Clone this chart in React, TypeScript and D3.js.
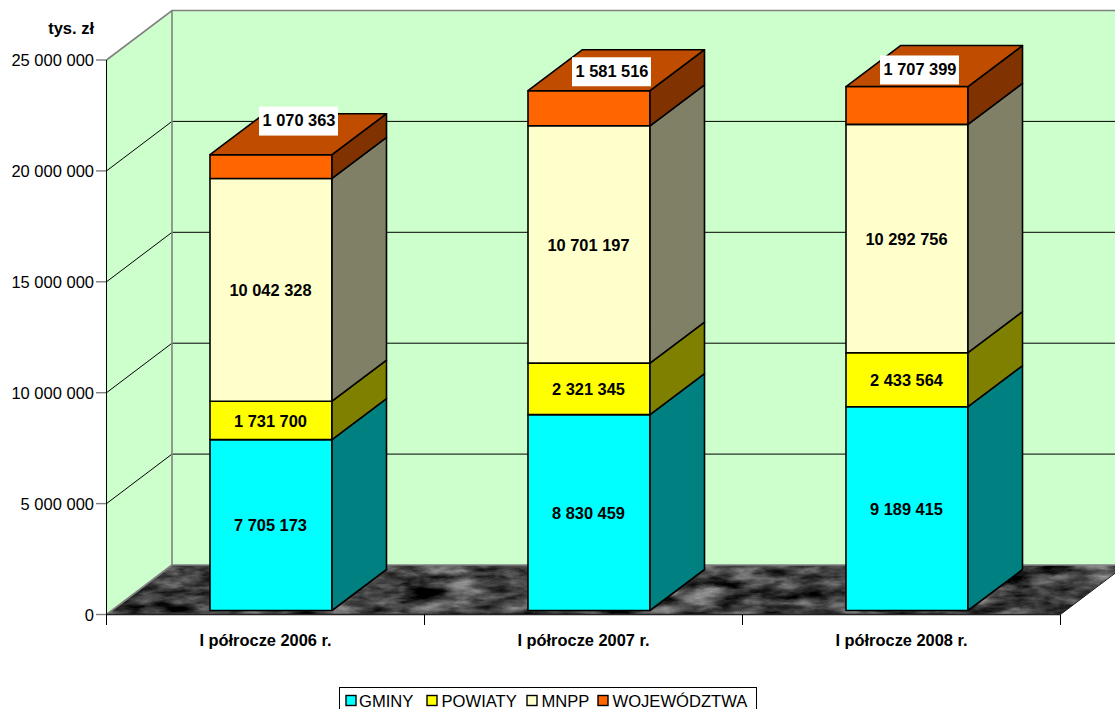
import React from "react";
import * as d3 from "d3";

const categories = ["I półrocze 2006 r.", "I półrocze 2007 r.", "I półrocze 2008 r."];
const seriesNames = ["GMINY", "POWIATY", "MNPP", "WOJEWÓDZTWA"];
const gminy = [7705173, 8830459, 9189415];
const powiaty = [1731700, 2321345, 2433564];
const mnpp = [10042328, 10701197, 10292756];
const wojewodztwa = [1070363, 1581516, 1707399];
const yTicks = [0, 5000000, 10000000, 15000000, 20000000, 25000000];
const frontColors = ["#00FFFF", "#FFFF00", "#FFFFCC", "#FF6600"];
const sideColors = ["#008080", "#808000", "#808066", "#803300"];
const topColor = "#C04C00";
const series = [gminy, powiaty, mnpp, wojewodztwa];

// layout
const FONT = "'Liberation Sans', Arial, sans-serif";
const wallDx = 65.5, wallDy = -49.5;
const barDx = 54.5, barDy = -41, barGapY = -4, barW = 122;
const topLabelOffsets = [[28, -46], [23, -37], [13, -36]];
const legendX = [346, 427, 527, 598];
const legendTextX = [359, 441.5, 541.5, 612.5];

const fmt = (v: number) => d3.format(",")(v).replace(/,/g, " ");

export default function App() {
  const y = d3.scaleLinear().domain([0, 25000000]).range([614.5, 60]);
  const x = d3.scaleBand<string>().domain(categories).range([106.5, 1060.5]);
  const stack = d3.stack<number>().keys(["0", "1", "2", "3"] as any).value((i: any, k: any) => series[+k][i]);
  const layers = stack(categories.map((_, i) => i) as any);
  const barLeft = (c: string) => x(c)! + x.bandwidth() / 2 - 55.5;
  const yTop = y(25000000);
  const backL = 106.5 + wallDx;
  const floorY = 614.5 + wallDy;
  const poly = (pts: number[][]) => pts.map((p) => p.join(",")).join(" ");

  return (
    <svg width={1115} height={709} style={{ position: "absolute", left: 0, top: 0, background: "#fff" }} fontFamily={FONT}>
      <defs>
        <filter id="marble" x="0" y="0" width="100%" height="100%" colorInterpolationFilters="sRGB">
          <feTurbulence type="fractalNoise" baseFrequency="0.025 0.08" numOctaves={5} seed={11} />
          <feColorMatrix type="matrix" values="0.7 0.7 0 0 -0.44  0.7 0.7 0 0 -0.44  0.7 0.7 0 0 -0.44  0 0 0 0 1" />
        </filter>
        <clipPath id="floorClip">
          <polygon points={poly([[106.5, 614.5], [backL, floorY], [1126, floorY], [1060.5, 614.5]])} />
        </clipPath>
      </defs>

      {/* walls */}
      <polygon points={poly([[106.5, 614.5], [106.5, yTop], [backL, yTop + wallDy], [backL, floorY]])} fill="#CCFFCC" />
      <rect x={backL} y={yTop + wallDy} width={1115 - backL} height={floorY - yTop - wallDy} fill="#CCFFCC" />

      {/* floor */}
      <g clipPath="url(#floorClip)">
        <rect x={106} y={floorY} width={1020} height={50} filter="url(#marble)" />
      </g>

      {/* gridlines */}
      {yTicks.slice(1, -1).map((t) => (
        <g key={t} stroke="#000" strokeWidth={1} fill="none">
          <polyline points={poly([[106.5, y(t)], [backL, y(t) + wallDy], [1115, y(t) + wallDy]])} />
        </g>
      ))}
      <g stroke="#808080" strokeWidth={1.6} fill="none">
        <polyline points={poly([[106.5, yTop], [backL, yTop + wallDy], [1115, yTop + wallDy]])} />
        <line x1={backL} y1={yTop + wallDy} x2={backL} y2={floorY} />
        <line x1={106.5} y1={614.5} x2={backL} y2={floorY} />
        <line x1={backL} y1={floorY} x2={1115} y2={floorY} />
      </g>
      <line x1={1060.5} y1={614.5} x2={1126} y2={floorY} stroke="#222" strokeWidth={1} />

      {/* axes */}
      <line x1={106.5} y1={yTop} x2={106.5} y2={625} stroke="#000" strokeWidth={1} />
      <line x1={106.5} y1={614.5} x2={1060.5} y2={614.5} stroke="#222" strokeWidth={1.4} />
      {yTicks.map((t) => (
        <g key={t}>
          <line x1={96} x2={106} y1={y(t)} y2={y(t)} stroke="#808080" strokeWidth={1.4} />
          <text x={94} y={y(t) + 0.5} dy="0.35em" fontSize={16.5} textAnchor="end" fill="#000">
            {fmt(t)}
          </text>
        </g>
      ))}
      {[...categories.map((c) => x(c)!), 1060.5].map((tx, i) => (
        <line key={i} x1={tx} x2={tx} y1={614.5} y2={625} stroke="#000" strokeWidth={1} />
      ))}
      {categories.map((c) => (
        <text key={c} x={x(c)! + x.bandwidth() / 2} y={646} fontSize={16.4} fontWeight="bold" textAnchor="middle" fill="#000">
          {c}
        </text>
      ))}
      <text x={94} y={34} fontSize={16.5} fontWeight="bold" textAnchor="end" fill="#000">tys. zł</text>

      {/* bars */}
      {categories.map((c, ci) => {
        const l = barLeft(c);
        const r = l + barW;
        return (
          <g key={c} stroke="#000" strokeWidth={1.6} strokeLinejoin="round">
            {layers.map((layer, si) => {
              const y0 = y(layer[ci][0]) + barGapY;
              const y1 = y(layer[ci][1]) + barGapY;
              return (
                <g key={si}>
                  <rect x={l} y={y1} width={barW} height={y0 - y1} fill={frontColors[si]} />
                  <polygon points={poly([[r, y0], [r + barDx, y0 + barDy], [r + barDx, y1 + barDy], [r, y1]])} fill={sideColors[si]} />
                  {si === layers.length - 1 && (
                    <polygon points={poly([[l, y1], [l + barDx, y1 + barDy], [r + barDx, y1 + barDy], [r, y1]])} fill={topColor} />
                  )}
                </g>
              );
            })}
          </g>
        );
      })}

      {/* value labels */}
      {categories.map((c, ci) => {
        const cx = barLeft(c) + barW / 2;
        return layers.map((layer, si) => {
          const v = series[si][ci];
          const mid = (y(layer[ci][0]) + y(layer[ci][1])) / 2 + barGapY;
          const isTop = si === layers.length - 1;
          const lx = isTop ? cx + topLabelOffsets[ci][0] : cx - 0.5;
          const ly = isTop ? mid + topLabelOffsets[ci][1] : mid + 0.5;
          return (
            <g key={`${ci}-${si}`}>
              {isTop && <rect x={lx - 40} y={ly - 14} width={79} height={29} fill="#fff" />}
              <text x={lx} y={ly} dy="0.35em" fontSize={16.4} fontWeight="bold" textAnchor="middle" fill="#000">
                {fmt(v)}
              </text>
            </g>
          );
        });
      })}

      {/* legend */}
      <rect x={339.5} y={687.5} width={417} height={30} fill="#fff" stroke="#000" strokeWidth={1} />
      {seriesNames.map((n, i) => (
        <g key={n}>
          <rect x={legendX[i]} y={695.5} width={10} height={10} fill={frontColors[i]} stroke="#000" strokeWidth={1.4} />
          <text x={legendTextX[i]} y={706.5} fontSize={16.6} fill="#000">{n}</text>
        </g>
      ))}
    </svg>
  );
}
